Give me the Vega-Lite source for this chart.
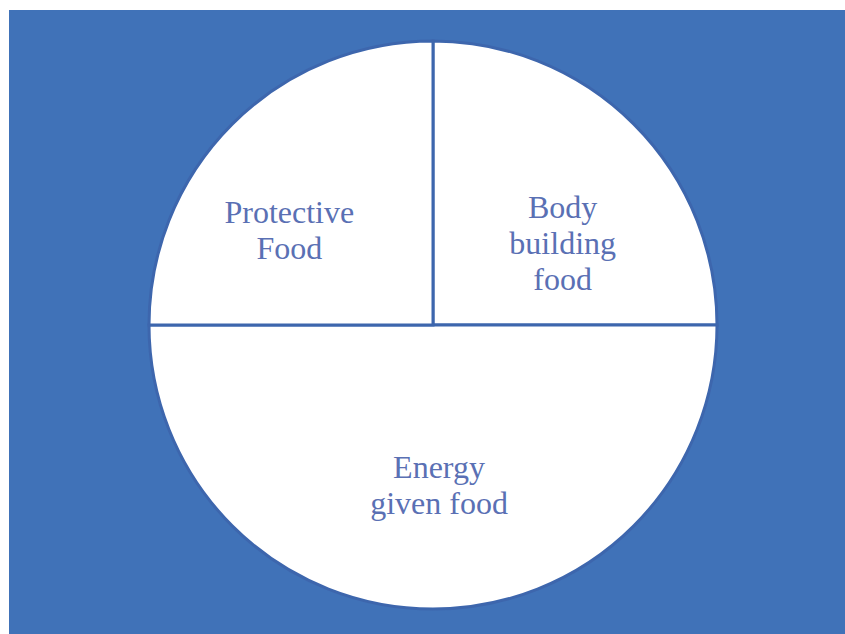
{
  "$schema": "https://vega.github.io/schema/vega-lite/v6.json",
  "width": 848,
  "height": 630,
  "autosize": "none",
  "padding": {"left": 9, "top": 10, "right": 0, "bottom": 0},
  "background": "white",
  "view": {"fill": "#4072b8", "stroke": null},
  "data": {
    "values": [
      {"category": "Body building food", "label": "Body\nbuilding\nfood", "share": 25, "ord": 1},
      {"category": "Energy given food", "label": "Energy\ngiven food", "share": 50, "ord": 2},
      {"category": "Protective Food", "label": "Protective\nFood", "share": 25, "ord": 3}
    ]
  },
  "encoding": {
    "theta": {"field": "share", "type": "quantitative", "stack": true},
    "order": {"field": "ord", "type": "quantitative"}
  },
  "layer": [
    {
      "mark": {"type": "arc", "outerRadius": 284, "fill": "white", "stroke": "#3d66ad", "strokeWidth": 3}
    },
    {
      "mark": {"type": "text", "radius": 165, "dx": -27, "dy": 5, "font": "Liberation Serif", "fontSize": 32, "lineHeight": 36, "lineBreak": "\n", "color": "#5a70b4", "baseline": "middle", "align": "center"},
      "encoding": {"text": {"condition": {"test": "datum.category === 'Protective Food'", "field": "label"}, "value": ""}}
    },
    {
      "mark": {"type": "text", "radius": 165, "dx": 13, "dy": 0, "font": "Liberation Serif", "fontSize": 32, "lineHeight": 36, "lineBreak": "\n", "color": "#5a70b4", "baseline": "middle", "align": "center"},
      "encoding": {"text": {"condition": {"test": "datum.category === 'Body building food'", "field": "label"}, "value": ""}}
    },
    {
      "mark": {"type": "text", "radius": 165, "dx": 6, "dy": -22, "font": "Liberation Serif", "fontSize": 32, "lineHeight": 36, "lineBreak": "\n", "color": "#5a70b4", "baseline": "middle", "align": "center"},
      "encoding": {"text": {"condition": {"test": "datum.category === 'Energy given food'", "field": "label"}, "value": ""}}
    }
  ]
}
